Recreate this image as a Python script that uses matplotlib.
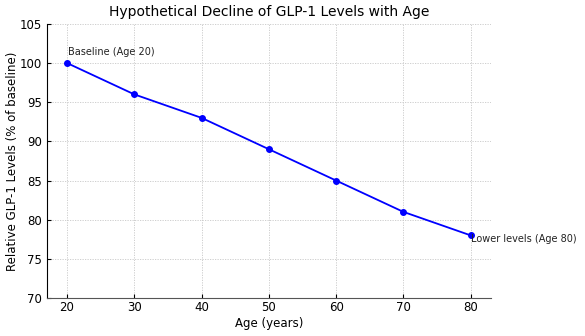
import matplotlib
matplotlib.use("Agg")
from matplotlib import pyplot as plt

ages = [20, 30, 40, 50, 60, 70, 80]
glp1_levels = [100, 96, 93, 89, 85, 81, 78]


def make_plot():
	fig = plt.figure(figsize=(5.85, 3.36), dpi=100)
	ax = fig.add_axes([0.080, 0.113, 0.759, 0.816])
	ax.plot(ages, glp1_levels, color='blue', marker='o', markersize=4, linewidth=1.3)
	ax.set_xlim(17, 83)
	ax.set_ylim(70, 105)
	ax.set_xticks(ages)
	ax.set_title('Hypothetical Decline of GLP-1 Levels with Age', fontsize=10)
	ax.set_xlabel('Age (years)', fontsize=8.5, labelpad=2)
	ax.set_ylabel('Relative GLP-1 Levels (% of baseline)', fontsize=8.5)
	ax.yaxis.set_label_coords(-0.063, 0.5)
	ax.tick_params(direction='in', labelsize=8.5, length=3)
	ax.tick_params(axis='x', pad=2)
	ax.grid(True, linestyle=(0, (1.5, 1.5)), color='#c8c8c8', linewidth=0.6)
	ax.spines['top'].set_visible(False)
	ax.spines['right'].set_visible(False)
	ax.spines['bottom'].set_color('#555555')
	ax.annotate('Baseline (Age 20)', (ages[0], glp1_levels[0]), xytext=(1, 6),
		textcoords='offset points', fontsize=7, color='#222222')
	ax.annotate('Lower levels (Age 80)', (ages[-1], glp1_levels[-1]), xytext=(0, -5),
		textcoords='offset points', fontsize=7, color='#222222')
	fig.savefig('out.png', dpi=100)


if __name__ == '__main__':
	make_plot()
